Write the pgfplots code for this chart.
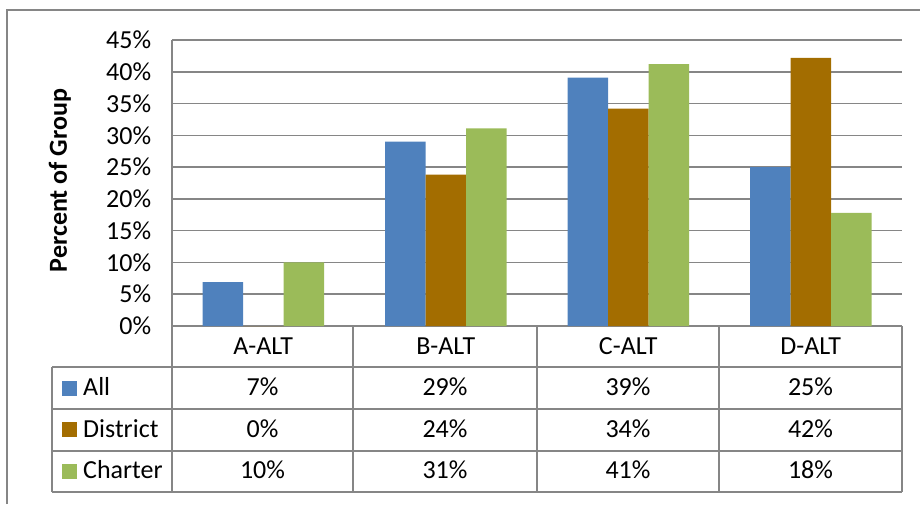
\documentclass[border=0pt]{standalone}
\usepackage{pgfplots}
\pgfplotsset{compat=1.18}
\usepackage{fontspec}
\setmainfont{Carlito}
\definecolor{cAll}{RGB}{79,129,189}
\definecolor{cDist}{RGB}{163,109,0}
\definecolor{cChar}{RGB}{155,187,89}
\definecolor{gridc}{RGB}{134,134,134}
\begin{document}
\begin{tikzpicture}[font=\fontsize{26}{31}\selectfont]
\path[use as bounding box] (0pt,0pt) rectangle (920pt,-504pt);
\begin{axis}[
  at={(172pt,-326pt)}, anchor=south west,
  scale only axis, width=730pt, height=286pt,
  xmin=0, xmax=4, ymin=0, ymax=45,
  ybar=0pt, bar width=40.5pt,
  axis lines*=left,
  axis line style={gridc, line width=1.5pt},
  xtick={0.5,1.5,2.5,3.5},
  xticklabels={A-ALT,B-ALT,C-ALT,D-ALT},
  ytick={0,5,...,45},
  yticklabel={\pgfmathprintnumber{\tick}\%},
  major tick length=0pt,
  ymajorgrids, grid style={gridc, line width=1.5pt},
  tick label style={font=\fontsize{26}{31}\selectfont},
  /pgf/number format/assume math mode=true,
  yticklabel style={xshift=-17.3pt},
  xticklabel style={anchor=base, yshift=-28.3pt},
  ylabel={Percent of Group},
  ylabel style={font=\bfseries\fontsize{26}{31}\selectfont, at={(axis description cs:-0.144,0.509)}, anchor=base},
]
\addplot[fill=cAll, draw=none] coordinates {(0.5,6.9) (1.5,29.0) (2.5,39.1) (3.5,25.0)};
\addplot[fill=cDist, draw=none] coordinates {(0.5,0) (1.5,23.8) (2.5,34.2) (3.5,42.2)};
\addplot[fill=cChar, draw=none] coordinates {(0.5,10.0) (1.5,31.1) (2.5,41.2) (3.5,17.8)};
\end{axis}
% outer frame
\draw[gridc, line width=1.5pt] (7pt,-504pt) -- (7pt,-10pt) -- (920pt,-10pt);
% data table grid
\begin{scope}[gridc, line width=1.5pt]
\draw (172pt,-326pt) -- (172pt,-492pt);
\foreach \xx in {353,537,719,902} {\draw (\xx pt,-326pt) -- (\xx pt,-492pt);}
\draw (52pt,-367pt) -- (52pt,-492pt);
\foreach \yy in {367,409,451,492} {\draw (52pt,-\yy pt) -- (902pt,-\yy pt);}
\end{scope}
% legend keys
\fill[cAll] (62pt,-380.5pt) rectangle (77pt,-395.5pt);
\fill[cDist] (62pt,-422pt) rectangle (77pt,-437pt);
\fill[cChar] (62pt,-463.5pt) rectangle (77pt,-478.5pt);
\node[anchor=base west, inner sep=0pt] at (83pt,-395.5pt) {All};
\node[anchor=base west, inner sep=0pt] at (83pt,-437pt) {District};
\node[anchor=base west, inner sep=0pt] at (83pt,-478.5pt) {Charter};
% table values
\node[anchor=base, inner sep=0pt] at (262.5pt,-395.5pt) {7\%};
\node[anchor=base, inner sep=0pt] at (445pt,-395.5pt) {29\%};
\node[anchor=base, inner sep=0pt] at (628pt,-395.5pt) {39\%};
\node[anchor=base, inner sep=0pt] at (810.5pt,-395.5pt) {25\%};
\node[anchor=base, inner sep=0pt] at (262.5pt,-437pt) {0\%};
\node[anchor=base, inner sep=0pt] at (445pt,-437pt) {24\%};
\node[anchor=base, inner sep=0pt] at (628pt,-437pt) {34\%};
\node[anchor=base, inner sep=0pt] at (810.5pt,-437pt) {42\%};
\node[anchor=base, inner sep=0pt] at (262.5pt,-478.5pt) {10\%};
\node[anchor=base, inner sep=0pt] at (445pt,-478.5pt) {31\%};
\node[anchor=base, inner sep=0pt] at (628pt,-478.5pt) {41\%};
\node[anchor=base, inner sep=0pt] at (810.5pt,-478.5pt) {18\%};
\end{tikzpicture}
\end{document}
